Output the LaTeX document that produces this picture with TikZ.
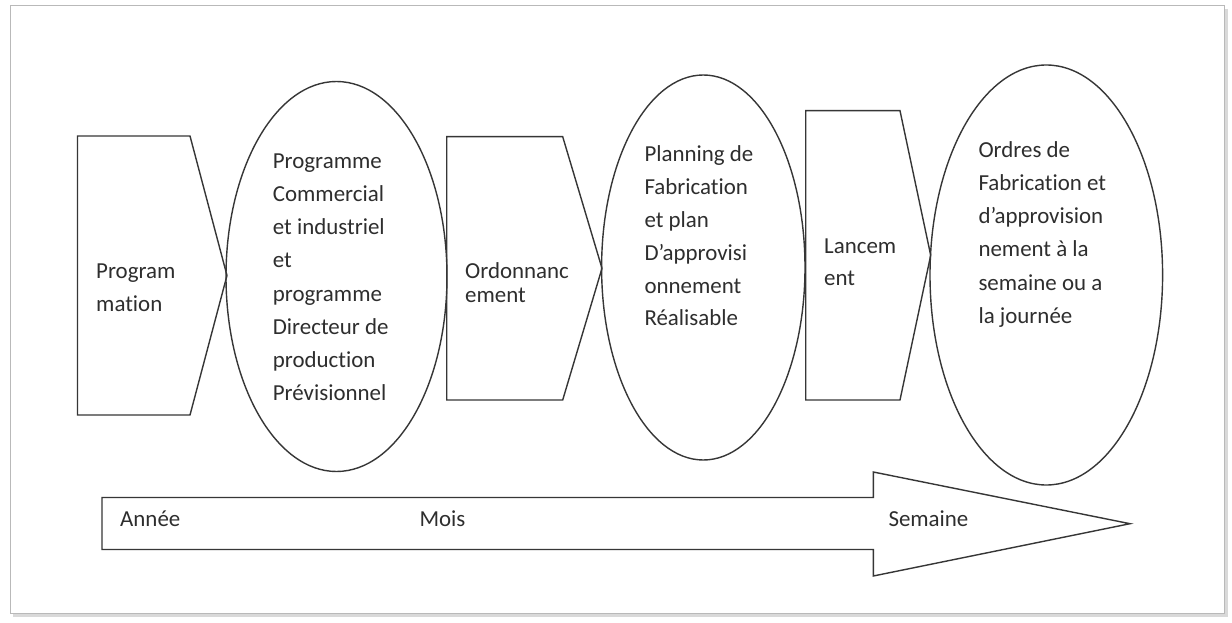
\documentclass[tikz,border=0pt]{standalone}
\usepackage{fontspec}
\setmainfont{Carlito}[Ligatures=NoCommon]
\usetikzlibrary{shapes.geometric}
\definecolor{ink}{HTML}{363636}
\definecolor{txt}{HTML}{2E2E2E}
% a left-aligned stack of lines whose baseline is the first line
\newcommand{\linestack}[2]{\parbox[t]{6cm}{\raggedright\fontsize{23}{#1}\selectfont #2}}
\begin{document}
\begin{tikzpicture}[x=1bp,y=-1bp,
  outline/.style={draw=ink,line width=1.4bp,line join=miter},
  oval/.style={draw=ink,line width=1.4bp,ellipse,inner sep=0pt},
  lbl/.style={text=txt,inner sep=0pt,anchor=base west},
  axislbl/.style={lbl,font=\fontsize{23}{26}\selectfont},
]
\useasboundingbox (0,0) rectangle (1232,623);
\fill[white] (0,0) rectangle (1232,623);
% page frame with a soft shadow on the right and bottom
\draw[gray!30,line width=3bp] (1226.5,9) -- (1226.5,615.5) -- (13,615.5);
\draw[gray!55,line width=1bp] (10,6) rectangle (1224,613);

% process steps (arrow-shaped boxes)
\draw[outline] (77.5,136) -- (190,136) -- (227,275.5) -- (190,415) -- (77.5,415) -- cycle;
\draw[outline] (446.7,136.7) -- (562.7,136.7) -- (602,268.3) -- (562.7,400) -- (446.7,400) -- cycle;
\draw[outline] (805.7,110.7) -- (900,110.7) -- (930.7,255.3) -- (900,400) -- (805.7,400) -- cycle;

% results (ellipses)
\node[oval,minimum width=221bp,minimum height=390bp] (e1) at (336.5,276.5) {};
\node[oval,minimum width=203.4bp,minimum height=385bp] (e2) at (703.3,267.5) {};
\node[oval,minimum width=232.6bp,minimum height=420bp] (e3) at (1046.3,275) {};

% texts of the steps
\node[lbl] (t1) at (96,278.3) {\linestack{33}{Program\\mation}};
\node[lbl] (t2) at (465,278.4) {\linestack{24}{Ordonnanc\\ement}};
\node[lbl] (t3) at (824,253.3) {\linestack{32.4}{Lancem\\ent}};

% texts of the results
\node[lbl] (r1) at (272.7,168.3) {\linestack{33.3}{Programme\\Commercial\\et industriel\\et\\programme\\Directeur de\\production\\Prévisionnel}};
\node[lbl] (r2) at (644.3,161.6) {\linestack{33}{Planning de\\Fabrication\\et plan\\D’approvisi\\onnement\\Réalisable}};
\node[lbl] (r3) at (978.3,157.3) {\linestack{33.3}{Ordres de\\Fabrication et\\d’approvision\\nement à la\\semaine ou a\\la journée}};

% time axis
\draw[outline] (102,497.5) -- (873.3,497.5) -- (873.3,472) -- (1130,523.7) -- (873.3,576)
  -- (873.3,549.5) -- (102,549.5) -- cycle;
\node[axislbl] (a1) at (120,526) {Année};
\node[axislbl] (a2) at (419.3,526) {Mois};
\node[axislbl] (a3) at (888.3,526) {Semaine};
\end{tikzpicture}
\end{document}
